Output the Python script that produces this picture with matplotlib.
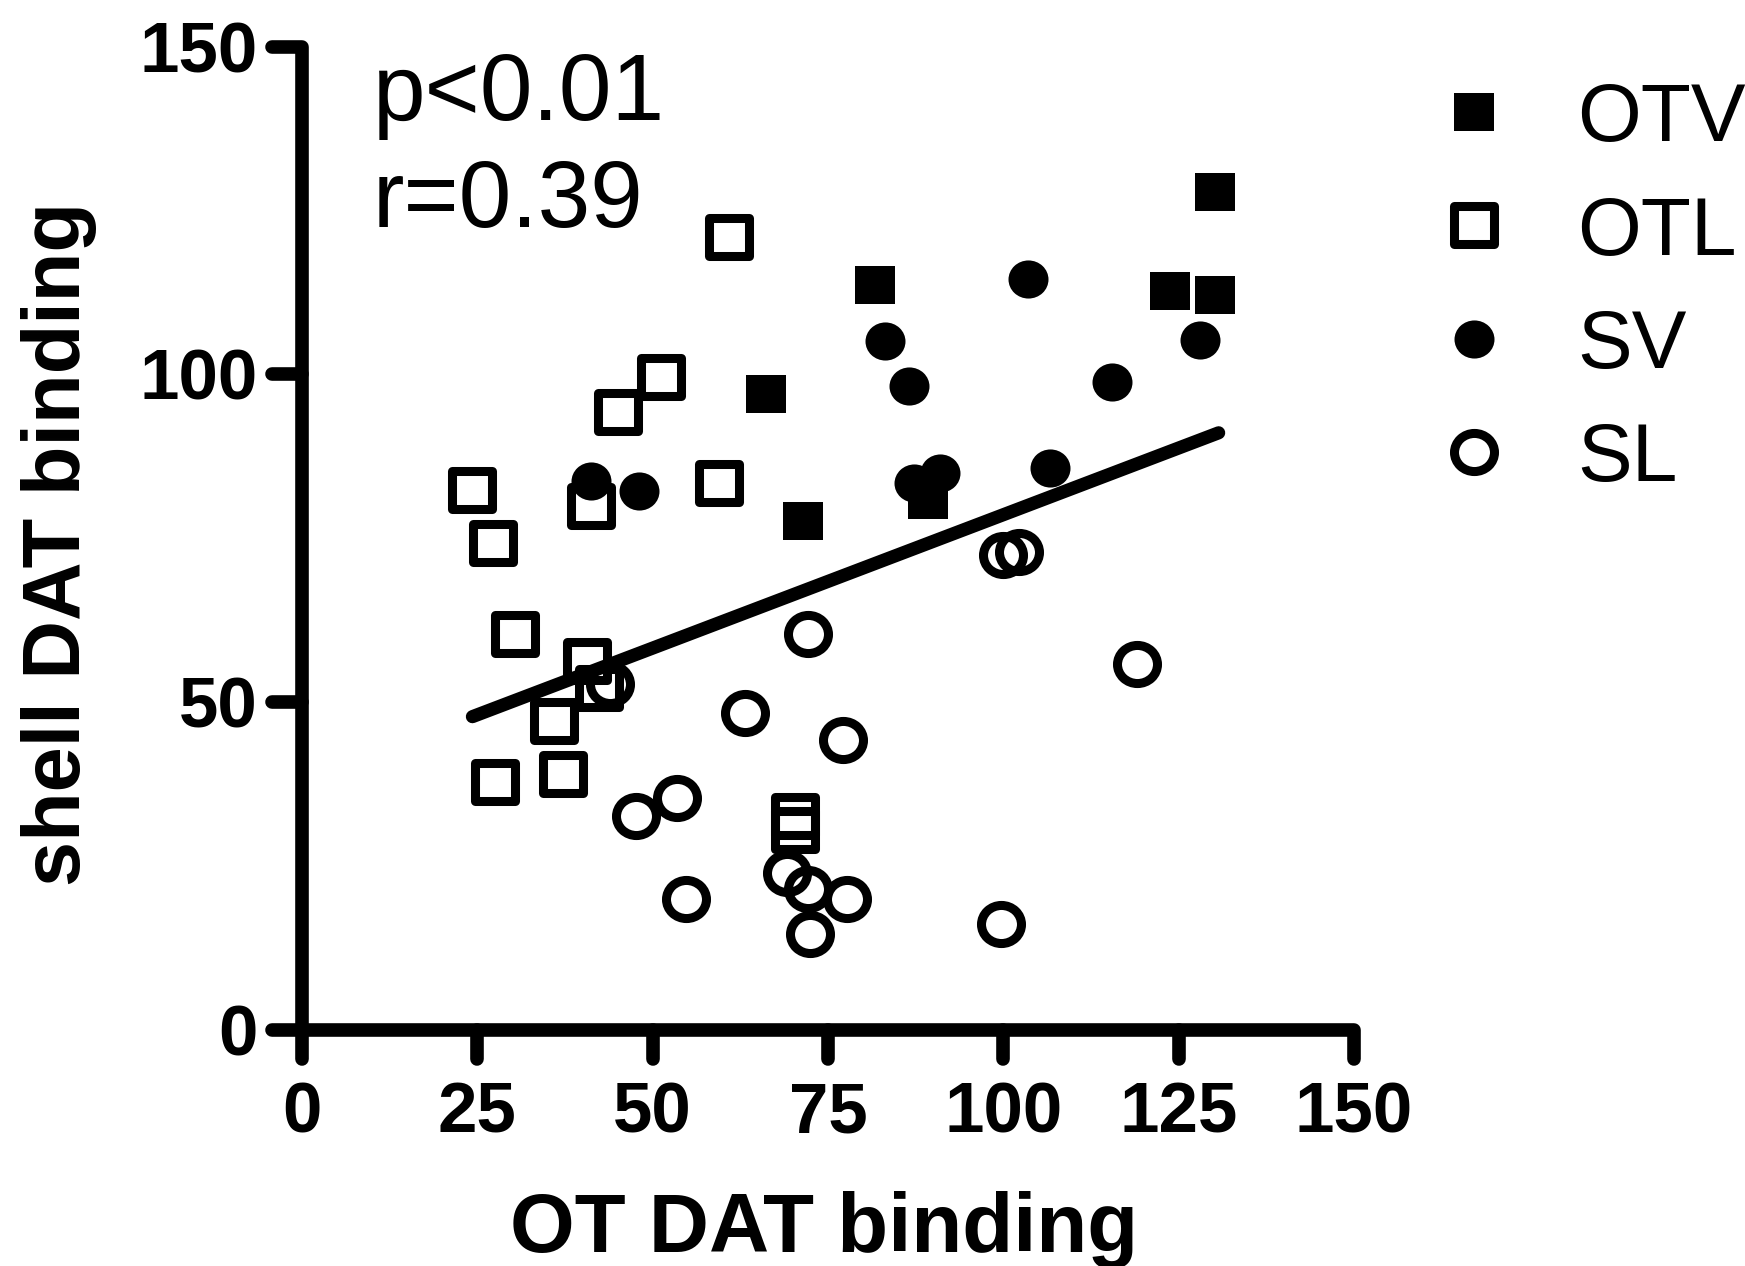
import matplotlib
matplotlib.use('Agg')
import matplotlib.pyplot as plt
import numpy as np
from matplotlib.path import Path
from matplotlib.markers import MarkerStyle

plt.rcParams['font.family'] = ['Liberation Sans', 'DejaVu Sans']

# значения
otv_x = [130.2, 81.7, 123.7, 130.2, 66.2, 71.4, 89.2]
otv_y = [127.9, 113.7, 112.8, 112.1, 97.0, 77.6, 80.8]

otl_x = [60.9, 51.2, 45.0, 24.3, 41.2, 59.4, 27.3, 30.4, 40.6, 42.4, 35.9, 27.5, 37.2, 70.3, 70.3]
otl_y = [121.0, 99.6, 94.2, 82.4, 79.9, 83.5, 74.3, 60.4, 56.3, 52.1, 47.2, 37.9, 39.0, 32.7, 30.5]

sv_x = [103.5, 83.1, 128.0, 86.5, 115.5, 41.2, 48.1, 87.2, 91.0, 106.6]
sv_y = [114.6, 105.1, 105.3, 98.2, 98.9, 83.7, 82.2, 83.4, 85.0, 85.8]

sl_x = [100.0, 102.3, 72.1, 119.1, 43.9, 63.2, 77.1, 47.6, 53.4, 54.7, 69.2, 72.1, 77.7, 72.5, 99.6]
sl_y = [72.4, 72.9, 60.4, 55.8, 52.8, 48.4, 44.3, 32.7, 35.4, 20.0, 23.9, 21.5, 20.0, 14.6, 16.2]

# линия регрессии
fit_x = [24.3, 130.7]
fit_y = [47.8, 91.1]

ticks = [0, 25, 50, 75, 100, 125, 150]
yticks = [0, 50, 100, 150]
labels = ['OTV', 'OTL', 'SV', 'SL']

W, H = 1745, 1266
L, R, T, B = 302, 1354, 46.7, 1030  # границы осей в пикселях

fig = plt.figure(figsize=(W / 100, H / 100), dpi=100)
ax = fig.add_axes([L / W, 1 - B / H, (R - L) / W, (B - T) / H])
ax.set_xlim(0, 150)
ax.set_ylim(0, 150)

px_x = (R - L) / 150  # пикселей на единицу по x
px_y = (B - T) / 150

# маркеры чуть шире, чем выше
sq = Path(np.array([[-1, -1], [1, -1], [1, 1], [-1, 1], [-1, -1]]) * [1.05, 1],
          [Path.MOVETO, Path.LINETO, Path.LINETO, Path.LINETO, Path.CLOSEPOLY])
uc = Path.unit_circle()
el = Path(uc.vertices * [1.05, 1], uc.codes)
m_sq = MarkerStyle(sq, joinstyle='miter')
m_el = MarkerStyle(el)

ms = 28.8
mew = 6.5
styles = [
    dict(marker=m_sq, mfc='black', mew=0),
    dict(marker=m_sq, mfc='none', mew=mew),
    dict(marker=m_el, mfc='black', mew=0),
    dict(marker=m_el, mfc='none', mew=mew),
]
series = [(otv_x, otv_y), (otl_x, otl_y), (sv_x, sv_y), (sl_x, sl_y)]

for (xs, ys), st in zip(series, styles):
    ax.plot(xs, ys, ls='none', ms=ms, mec='black', **st)

ax.plot(fit_x, fit_y, color='black', lw=9.5, solid_capstyle='round', zorder=5)

# оси с закруглёнными концами
lw = 9.8
tx = 30 / px_x
ty = 29 / px_y
ax.plot([0, 0, -tx], [-ty, 150, 150], color='black', lw=lw, solid_capstyle='round',
        solid_joinstyle='round', clip_on=False)
ax.plot([-tx, 150, 150], [0, 0, -ty], color='black', lw=lw, solid_capstyle='round',
        solid_joinstyle='round', clip_on=False)
for t in ticks[1:-1]:
    ax.plot([t, t], [0, -ty], color='black', lw=lw, solid_capstyle='round', clip_on=False)
for t in yticks[1:-1]:
    ax.plot([0, -tx], [t, t], color='black', lw=lw, solid_capstyle='round', clip_on=False)

for s in ax.spines.values():
    s.set_visible(False)
ax.set_xticks(ticks)
ax.set_xticklabels([str(t) for t in ticks], fontsize=51, fontweight='bold')
ax.set_yticks(yticks)
ax.set_yticklabels([str(t) for t in yticks], fontsize=51, fontweight='bold')
ax.tick_params(axis='x', length=0, pad=37)
ax.tick_params(axis='y', length=0, pad=32)

ax.set_xlabel('OT DAT binding', fontsize=60, fontweight='bold', va='baseline')
ax.xaxis.set_label_coords((824 - L) / (R - L), (B - 1252) / (B - T))
ax.set_ylabel('shell DAT binding', fontsize=58.5, fontweight='bold', va='baseline',
              rotation_mode='anchor')
ax.yaxis.set_label_coords((80 - L) / (R - L), (B - 544) / (B - T))

ax.text((373 - L) / px_x, (B - 120) / px_y, 'p<0.01', fontsize=68, va='baseline')
ax.text((373 - L) / px_x, (B - 227) / px_y, 'r=0.39', fontsize=68, va='baseline')

# легенда
for i, (lab, st) in enumerate(zip(labels, styles)):
    yc = 112 + i * 113.3
    ax.plot([(1474 - L) / px_x], [(B - yc) / px_y], ls='none', ms=ms, mec='black',
            clip_on=False, **st)
    ax.text((1577 - L) / px_x, (B - yc - 29.5) / px_y, lab, fontsize=59, va='baseline')

fig.savefig('out.png', dpi=100)
